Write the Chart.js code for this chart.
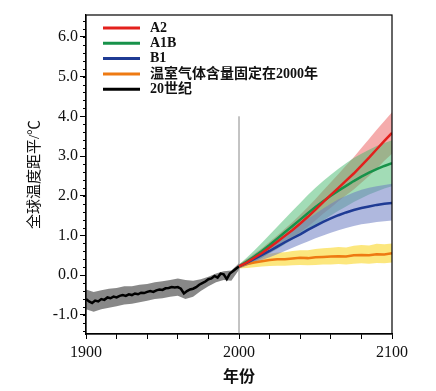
<!DOCTYPE html>
<html>
<head>
<meta charset="utf-8">
<script src="https://cdn.jsdelivr.net/npm/chart.js@4.4.0/dist/chart.umd.min.js"></script>
<style>
  html, body { margin: 0; padding: 0; background: #fff; }
  #wrap { width: 436px; height: 391px; }
</style>
</head>
<body>
<div id="wrap"><canvas id="temp_chart" width="436" height="391"></canvas></div>
<script>

// 20th century observed anomaly (every 2 years)
const histYears = [];
for (let y = 1900; y <= 2000; y += 2) histYears.push(y);
const histValues = [-0.60, -0.66, -0.70, -0.64, -0.66, -0.60, -0.62, -0.56, -0.58, -0.54,
                    -0.56, -0.52, -0.50, -0.52, -0.48, -0.50, -0.46, -0.48, -0.44, -0.45,
                    -0.42, -0.40, -0.42, -0.38, -0.36, -0.37, -0.33, -0.32, -0.30, -0.31,
                    -0.30, -0.34, -0.46, -0.40, -0.36, -0.34, -0.30, -0.24, -0.20, -0.16,
                    -0.10, -0.08, -0.02, -0.06, 0.04, 0.02, -0.10, 0.04, 0.10, 0.16, 0.22];

// grey spread around the 20th century curve (every 5 years)
const histBandYears = [];
for (let y = 1900; y <= 2000; y += 5) histBandYears.push(y);
const histHigh = [-0.36, -0.42, -0.38, -0.34, -0.32, -0.28, -0.28, -0.24, -0.22, -0.18, -0.15,
                  -0.12, -0.08, -0.12, -0.14, -0.10, -0.04, 0.04, 0.10, 0.12, 0.30];
const histLow = [-0.86, -0.92, -0.86, -0.82, -0.78, -0.74, -0.72, -0.68, -0.64, -0.60, -0.58,
                 -0.54, -0.52, -0.60, -0.54, -0.40, -0.28, -0.18, -0.12, -0.14, 0.14];

// scenario projections (every 5 years)
const projYears = [];
for (let y = 2000; y <= 2100; y += 5) projYears.push(y);

const a2Values  = [0.22, 0.32, 0.44, 0.56, 0.70, 0.84, 0.99, 1.14, 1.30, 1.47, 1.65, 1.84, 2.02, 2.20, 2.38, 2.56, 2.76, 2.96, 3.17, 3.38, 3.58];
const a2High    = [0.27, 0.40, 0.54, 0.68, 0.84, 1.00, 1.17, 1.34, 1.52, 1.72, 1.92, 2.13, 2.34, 2.55, 2.76, 2.97, 3.20, 3.43, 3.66, 3.88, 4.10];
const a2Low     = [0.17, 0.25, 0.34, 0.44, 0.56, 0.68, 0.81, 0.94, 1.08, 1.22, 1.38, 1.55, 1.70, 1.86, 2.01, 2.16, 2.33, 2.50, 2.68, 2.88, 3.06];

const a1bValues = [0.22, 0.34, 0.47, 0.61, 0.76, 0.92, 1.08, 1.24, 1.40, 1.56, 1.72, 1.86, 2.00, 2.13, 2.25, 2.37, 2.48, 2.58, 2.67, 2.75, 2.82];
const a1bHigh   = [0.27, 0.44, 0.62, 0.82, 1.02, 1.22, 1.42, 1.62, 1.82, 2.02, 2.20, 2.37, 2.53, 2.68, 2.82, 2.95, 3.06, 3.16, 3.25, 3.33, 3.40];
const a1bLow    = [0.17, 0.26, 0.34, 0.44, 0.55, 0.66, 0.78, 0.90, 1.02, 1.14, 1.26, 1.38, 1.50, 1.62, 1.73, 1.84, 1.94, 2.03, 2.11, 2.18, 2.24];

const b1Values  = [0.22, 0.31, 0.41, 0.51, 0.61, 0.72, 0.83, 0.93, 1.03, 1.14, 1.24, 1.34, 1.43, 1.51, 1.58, 1.64, 1.69, 1.73, 1.77, 1.80, 1.82];
const b1High    = [0.27, 0.38, 0.51, 0.64, 0.77, 0.90, 1.03, 1.16, 1.29, 1.42, 1.55, 1.68, 1.80, 1.91, 2.00, 2.08, 2.15, 2.20, 2.24, 2.27, 2.30];
const b1Low     = [0.17, 0.24, 0.31, 0.38, 0.45, 0.53, 0.61, 0.69, 0.77, 0.85, 0.93, 1.00, 1.07, 1.13, 1.19, 1.24, 1.28, 1.31, 1.34, 1.36, 1.38];

const constValues = [0.22, 0.28, 0.32, 0.35, 0.38, 0.40, 0.40, 0.42, 0.44, 0.43, 0.45, 0.46, 0.47, 0.48, 0.47, 0.50, 0.51, 0.50, 0.53, 0.52, 0.55];
const constHigh   = [0.27, 0.40, 0.46, 0.50, 0.54, 0.57, 0.58, 0.61, 0.63, 0.63, 0.66, 0.68, 0.69, 0.71, 0.70, 0.74, 0.76, 0.75, 0.79, 0.78, 0.80];
const constLow    = [0.17, 0.18, 0.20, 0.22, 0.23, 0.24, 0.24, 0.25, 0.26, 0.25, 0.26, 0.27, 0.27, 0.28, 0.27, 0.29, 0.30, 0.29, 0.31, 0.30, 0.32];

const seriesLabels = ['A2', 'A1B', 'B1', '温室气体含量固定在2000年', '20世纪'];
const seriesColours = ['#e3201c', '#17924a', '#1f3b94', '#ee7a12', '#000000'];

// vertical marker at year 2000
const markerYear = 2000;
const markerRange = [-1.5, 4.0];

const yTicks = [-1, 0, 1, 2, 3, 4, 5, 6];

function pts(xs, ys) {
    return xs.map((x, i) => ({x: x, y: ys[i]}));
}

function band(xs, lo, hi, colour) {
    return [
        {data: pts(xs, lo), borderWidth: 0, pointRadius: 0, fill: false, order: 10, isBand: true},
        {data: pts(xs, hi), borderWidth: 0, pointRadius: 0, fill: '-1', backgroundColor: colour, order: 10, isBand: true}
    ];
}

const datasets = [].concat(
    band(histBandYears, histLow, histHigh, 'rgba(115,115,115,0.85)'),
    band(projYears, b1Low, b1High, 'rgba(110,125,195,0.55)'),
    band(projYears, a1bLow, a1bHigh, 'rgba(70,185,110,0.5)'),
    band(projYears, a2Low, a2High, 'rgba(235,90,90,0.5)'),
    band(projYears, constLow, constHigh, 'rgba(250,215,40,0.6)'),
    [{
        data: [{x: markerYear, y: markerRange[0]}, {x: markerYear, y: markerRange[1]}],
        borderColor: '#888', borderWidth: 1, pointRadius: 0, order: 5, isBand: true
    }]
);

const lineSets = [a2Values, a1bValues, b1Values, constValues];
lineSets.forEach((vals, i) => {
    datasets.push({
        label: seriesLabels[i], data: pts(projYears, vals),
        borderColor: seriesColours[i], borderWidth: 2.5, pointRadius: 0, order: 1
    });
});
datasets.push({
    label: seriesLabels[4], data: pts(histYears, histValues),
    borderColor: seriesColours[4], borderWidth: 2.5, pointRadius: 0, order: 1
});

const serif = "'Liberation Serif', 'Noto Sans CJK SC', serif";

// minor ticks, the box, and the legend inside the plot
const extras = {
    id: 'extras',
    afterDraw(chart) {
        const ctx = chart.ctx;
        const area = chart.chartArea;
        const ys = chart.scales.y;
        ctx.save();
        ctx.strokeStyle = '#000';
        ctx.lineWidth = 1;
        for (let v = -1.4; v <= 6.5; v += 0.2) {
            const py = Math.round(ys.getPixelForValue(v)) + 0.5;
            ctx.beginPath();
            ctx.moveTo(area.left - 3, py);
            ctx.lineTo(area.left, py);
            ctx.stroke();
        }
        ctx.lineWidth = 1.2;
        ctx.strokeRect(area.left, area.top, area.right - area.left, area.bottom - area.top);

        // legend
        const items = chart.data.datasets.filter(d => !d.isBand && d.label);
        const order = seriesLabels.map(l => items.find(d => d.label === l));
        ctx.font = 'bold 14px ' + serif;
        ctx.textBaseline = 'middle';
        order.forEach((d, i) => {
            const y = area.top + 13 + i * 15.3;
            ctx.strokeStyle = d.borderColor;
            ctx.lineWidth = 3;
            ctx.beginPath();
            ctx.moveTo(area.left + 17, y);
            ctx.lineTo(area.left + 54, y);
            ctx.stroke();
            ctx.fillStyle = '#111';
            ctx.fillText(d.label, area.left + 64, y);
        });
        ctx.restore();
    }
};

const cfg = {
    type: 'line',
    data: {datasets: datasets},
    options: {
        responsive: false,
        animation: false,
        layout: {padding: {top: 15, right: 44, left: 0, bottom: 0}},
        plugins: {legend: {display: false}, tooltip: {enabled: false}},
        scales: {
            x: {
                type: 'linear', min: 1900, max: 2100,
                afterFit: (s) => { s.height = 57; },
                ticks: {
                    stepSize: 20, maxRotation: 0, autoSkip: false,
                    color: '#111', font: {family: serif, size: 16},
                    callback: (v) => (v % 100 === 0 ? String(v) : ''),
                    padding: 4
                },
                grid: {drawOnChartArea: false, tickLength: 5, color: '#000'},
                border: {color: '#000', width: 1.2},
                title: {display: true, text: '年份', color: '#111',
                        font: {family: serif, size: 16, weight: 'bold'}, padding: {top: 0}}
            },
            y: {
                min: -1.48, max: 6.55,
                afterFit: (s) => { s.width = 86; },
                afterBuildTicks: (s) => { s.ticks = yTicks.map(v => ({value: v})); },
                ticks: {
                    color: '#111', font: {family: serif, size: 16}, padding: 2,
                    callback: (v) => v.toFixed(1)
                },
                grid: {drawOnChartArea: false, tickLength: 6, color: '#000'},
                border: {color: '#000', width: 1.2},
                title: {display: true, text: '全球温度距平/℃', color: '#111',
                        font: {family: serif, size: 15}, padding: {top: 26, bottom: 6}}
            }
        }
    },
    plugins: [extras]
};

new Chart(document.getElementById('temp_chart').getContext('2d'), cfg);
</script>
</body>
</html>
